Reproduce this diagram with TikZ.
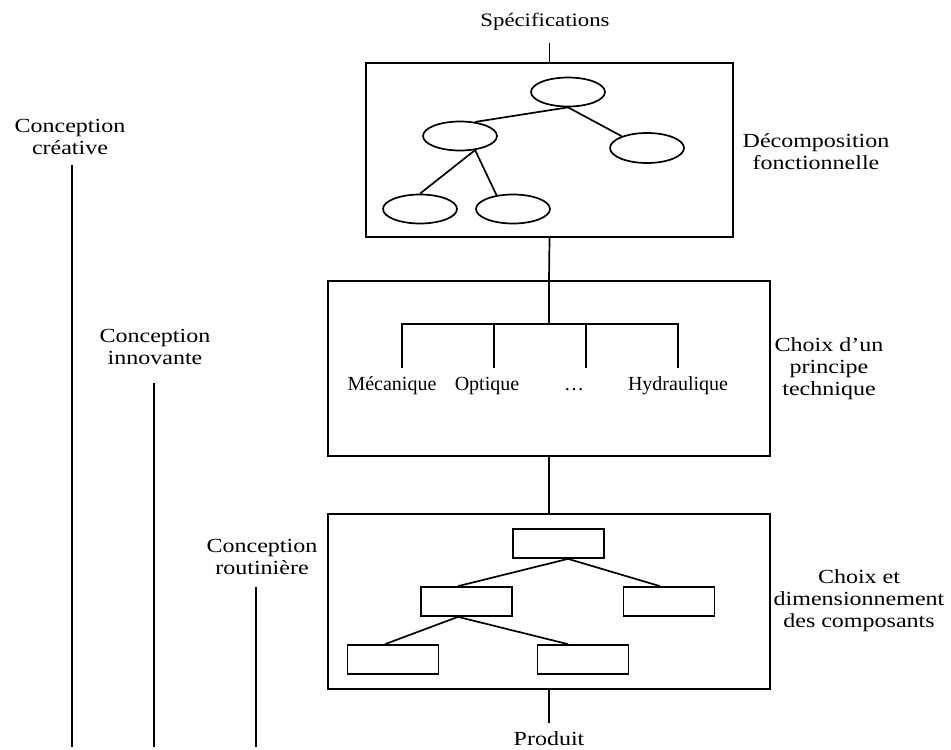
\documentclass[tikz,border=0pt]{standalone}
\usepackage{fontspec}
\setmainfont{Liberation Serif}
\newfontfamily\widefont[FakeStretch=1.2]{Liberation Serif}
\usetikzlibrary{shapes.geometric}
\begin{document}
\begin{tikzpicture}[x=1pt,y=-1pt,
  line width=1.7pt,
  bigbox/.style={draw,rectangle,inner sep=0pt,line width=1.8pt},
  ell/.style={draw,ellipse,inner sep=0pt,minimum width=74pt,minimum height=29pt},
  rbox/.style={draw,rectangle,inner sep=0pt,minimum width=91pt,minimum height=29pt},
  lab/.style={align=center,anchor=base,inner sep=0pt,font=\widefont\fontsize{20}{22}\selectfont},
  small/.style={anchor=base,inner sep=0pt,font=\fontsize{20}{22}\selectfont}
]
\useasboundingbox (0,0) rectangle (951,750);

% main boxes
\node[bigbox,minimum width=367pt,minimum height=174pt] (b1) at (549.5,150) {};
\node[bigbox,minimum width=442pt,minimum height=175pt] (b2) at (549,368.5) {};
\node[bigbox,minimum width=442pt,minimum height=175pt] (b3) at (549,601.5) {};

% top / bottom labels
\node[lab,font=\widefont\fontsize{19}{22}\selectfont] (spec) at (545,26) {Spécifications};
\coordinate (specend) at (549.5,43);
\node[lab] (prod) at (549,745) {Produit};
\coordinate (prodend) at (549,723);

\draw (specend) -- (b1.north);
\draw (b1.south) -- (b2.north);
\draw (b2.south) -- (b3.north);
\draw (b3.south) -- (prodend);

% right labels (base anchor = baseline of last line)
\node[lab] (lab1) at (816,169) {Décomposition\\fonctionnelle};
\node[lab] (lab2) at (829,395) {Choix d’un\\principe\\technique};
\node[lab] (lab3) at (859,627) {Choix et\\dimensionnement\\des composants};

% left labels and lines
\node[lab] (cc) at (70,154) {Conception\\créative};
\node[lab] (ci) at (155,364) {Conception\\innovante};
\node[lab] (cr) at (262,574) {Conception\\routinière};
\coordinate (cc1) at (72,165);  \coordinate (cc2) at (72,747);
\coordinate (ci1) at (154,383); \coordinate (ci2) at (154,747);
\coordinate (cr1) at (256,587); \coordinate (cr2) at (256,747);
\draw (cc1) -- (cc2);
\draw (ci1) -- (ci2);
\draw (cr1) -- (cr2);

% box 1: functional tree
\node[ell] (e0) at (568,92) {};
\node[ell] (e1) at (460,136) {};
\node[ell,minimum height=30pt] (e2) at (647,148) {};
\node[ell] (e3) at (420,209) {};
\node[ell] (e4) at (513,209) {};
\draw (e0.south) -- (e1.43);
\draw (e0.south) -- (e2.155);
\draw (e1.-43) -- (e3.north);
\draw (e1.-43) -- (e4.140);

% box 2: technical principles
\coordinate (hub) at (549,324);
\coordinate (d1) at (402,368);
\coordinate (d2) at (494,368);
\coordinate (d3) at (586,368);
\coordinate (d4) at (678,368);
\draw (b2.north) -- (hub);
\draw (d1) -- (d1|-hub) -- (d4|-hub) -- (d4);
\draw (d2) -- (d2|-hub);
\draw (d3) -- (d3|-hub);
\node[small] (m1) at (392,390) {Mécanique};
\node[small] (m2) at (487,390) {Optique};
\node[small] (m3) at (574,390) {\ldots};
\node[small] (m4) at (678,390) {Hydraulique};

% box 3: component tree
\node[rbox] (r0) at (558.5,543.5) {};
\node[rbox] (r1) at (466.5,601.5) {};
\node[rbox] (r2) at (669,601.5) {};
\node[rbox] (r3) at (393,659.5) {};
\node[rbox] (r4) at (583,659.5) {};
\draw ([xshift=9.5pt]r0.south) -- ([xshift=-8.5pt]r1.north);
\draw ([xshift=9.5pt]r0.south) -- ([xshift=-9pt]r2.north);
\draw ([xshift=-8.5pt]r1.south) -- ([xshift=-8pt]r3.north);
\draw ([xshift=-8.5pt]r1.south) -- ([xshift=-15pt]r4.north);
\end{tikzpicture}
\end{document}
